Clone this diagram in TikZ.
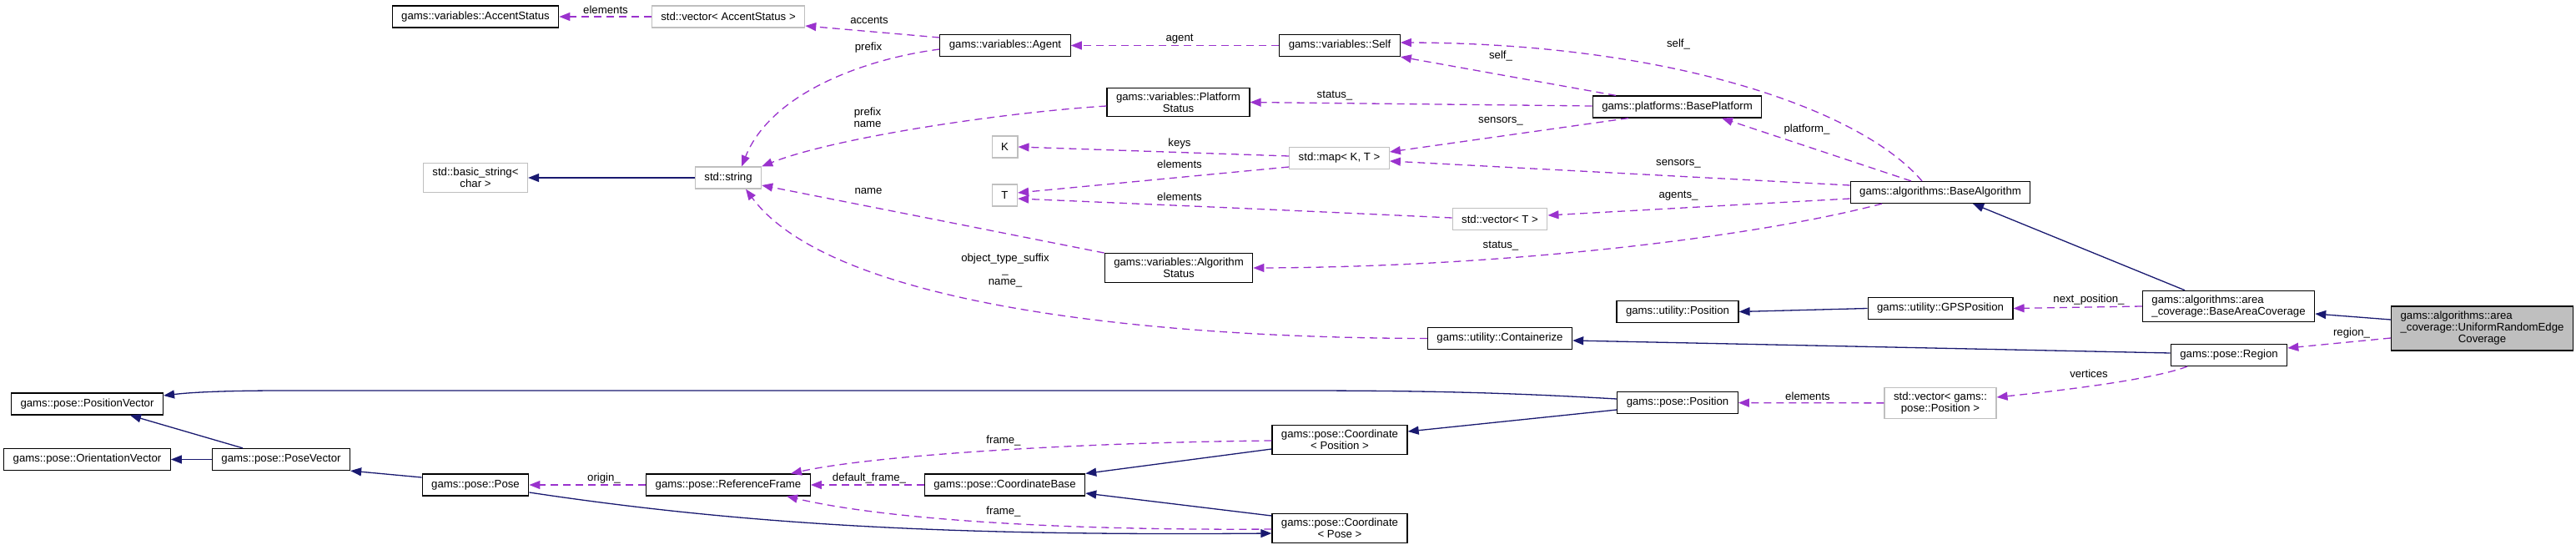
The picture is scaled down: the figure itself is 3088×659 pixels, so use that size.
\documentclass[tikz,border=0pt]{standalone}
\usepackage{fontspec}
\setmainfont{Liberation Sans}
\usetikzlibrary{arrows.meta}
\definecolor{navy}{HTML}{191970}
\definecolor{orchid}{HTML}{9A32CD}
\definecolor{lgray}{HTML}{BFBFBF}
\begin{document}
\begin{tikzpicture}[x=1bp,y=-1bp,every node/.style={font=\fontsize{13.2bp}{14bp}\selectfont}]
\tikzstyle{cls}=[draw=black,line width=1.2bp,inner xsep=11bp,inner ysep=5.5bp,minimum height=26bp]
\tikzstyle{ext}=[cls,draw=lgray]
\tikzstyle{lbl}=[inner sep=1bp]
\tikzstyle{inherit}=[draw=navy,line width=1.3bp,-{Triangle[length=13bp,width=10bp]}]
\tikzstyle{usage}=[draw=orchid,line width=1.3bp,dash pattern=on 9bp off 6bp,-{Triangle[length=13bp,width=10bp]}]
\useasboundingbox (0,0) rectangle (3088,659);

\node[cls](accent) at (570,20) {gams::variables::AccentStatus};
\node[ext](vaccent) at (873,20) {std::vector< AccentStatus >};
\node[cls](agent) at (1205,54.5) {gams::variables::Agent};
\node[cls](self) at (1606,54.5) {gams::variables::Self};
\node[ext,align=center](bstring) at (570,213) {std::basic\_string<\\char >};
\node[ext](string) at (873,213) {std::string};
\node[cls,align=center](pstatus) at (1412.5,122.5) {gams::variables::Platform\\Status};
\node[ext](K) at (1204.5,176) {K};
\node[ext](T) at (1204.5,234) {T};
\node[ext](map) at (1605.5,189.5) {std::map< K, T >};
\node[cls](bplat) at (2010.5,128) {gams::platforms::BasePlatform};
\node[ext](vT) at (1798,262.5) {std::vector< T >};
\node[cls](balg) at (2326,230.5) {gams::algorithms::BaseAlgorithm};
\node[cls,align=center](astatus) at (1413,321) {gams::variables::Algorithm\\Status};
\node[cls](contain) at (1798,405.5) {gams::utility::Containerize};
\node[cls](upos) at (2011,373.5) {gams::utility::Position};
\node[cls](gps) at (2326,369.5) {gams::utility::GPSPosition};
\node[cls,align=left](barea) at (2671.5,367) {gams::algorithms::area\\\_coverage::BaseAreaCoverage};
\node[cls,fill=lgray](ure) at (2975.5,393.5) {\begin{tabular}{@{}l@{}}gams::algorithms::area\\\_coverage::UniformRandomEdge\\\multicolumn{1}{@{}c@{}}{Coverage}\end{tabular}};
\node[cls](region) at (2672,425.5) {gams::pose::Region};
\node[ext,align=center](vpos) at (2326,483) {std::vector< gams::\\pose::Position >};
\node[cls](ppos) at (2011,482.5) {gams::pose::Position};
\node[cls,align=center](cpos) at (1606,527) {gams::pose::Coordinate\\< Position >};
\node[cls,align=center](cpose) at (1606,633) {gams::pose::Coordinate\\< Pose >};
\node[cls](cbase) at (1204.5,581) {gams::pose::CoordinateBase};
\node[cls](rframe) at (873,581) {gams::pose::ReferenceFrame};
\node[cls](pose) at (570,581) {gams::pose::Pose};
\node[cls](pvec) at (337,550.5) {gams::pose::PoseVector};
\node[cls](posvec) at (104.5,484) {gams::pose::PositionVector};
\node[cls](orivec) at (104.5,550.5) {gams::pose::OrientationVector};

% member labels
\node[lbl](l01) at (726,12) {elements};
\node[lbl](l02) at (1042,24) {accents};
\node[lbl](l03) at (1041,57) {prefix};
\node[lbl](l04) at (1414,47) {agent};
\node[lbl,align=center](l05) at (1040,140.5) {prefix\\name};
\node[lbl](l06) at (1414,172) {keys};
\node[lbl](l07) at (1414,197) {elements};
\node[lbl](l08) at (1414,236) {elements};
\node[lbl](l09) at (1041,229) {name};
\node[lbl,align=center](l10) at (1205,324) {object\_type\_suffix\\\_\\name\_};
\node[lbl](l11) at (2012,53) {self\_};
\node[lbl](l12) at (1799,67) {self\_};
\node[lbl](l13) at (1600,115) {status\_};
\node[lbl](l14) at (1799,145) {sensors\_};
\node[lbl](l15) at (2166,155) {platform\_};
\node[lbl](l16) at (2012,196) {sensors\_};
\node[lbl](l17) at (2012,235) {agents\_};
\node[lbl](l18) at (1799,295) {status\_};
\node[lbl](l19) at (2504,359) {next\_position\_};
\node[lbl](l20) at (2819,399) {region\_};
\node[lbl](l21) at (2504,448) {vertices};
\node[lbl](l22) at (2167,475) {elements};
\node[lbl](l23) at (1203,528) {frame\_};
\node[lbl](l24) at (1042,573) {default\_frame\_};
\node[lbl](l25) at (1203,613) {frame\_};
\node[lbl](l26) at (724,573) {origin\_};

% usage relations
\draw[usage] (vaccent) -- (accent);
\draw[usage] ([yshift=9.5bp]agent.west) -- ([yshift=-11bp]vaccent.east);
\draw[usage] ([yshift=-4.5bp]agent.west) .. controls (1040,70) and (925,110) .. ([xshift=16bp]string.north);
\draw[usage] (self) -- (agent);
\draw[usage] ([yshift=-4.5bp]pstatus.west) .. controls (1200,135) and (1000,165) .. (string.north east);
\draw[usage] ([yshift=2.5bp]map.west) -- (K.east);
\draw[usage] ([yshift=-10.5bp]map.west) -- ([yshift=3bp]T.east);
\draw[usage] ([yshift=1.5bp]vT.west) .. controls (1500,250) .. ([yshift=-4bp]T.east);
\draw[usage] (astatus.north west) -- ([yshift=-9bp]string.east);
\draw[usage] (contain.west) .. controls (1400,405) and (1000,370) .. ([xshift=21bp]string.south);
\draw[usage] ([xshift=-73.5bp]bplat.north) -- (self.south east);
\draw[usage] ([yshift=1bp]bplat.west) -- (pstatus.east);
\draw[usage] ([xshift=-58.5bp]bplat.south) -- ([yshift=7.5bp]map.east);
\draw[usage] ([xshift=-22bp]balg.north) .. controls (2230,130) and (2000,52) .. ([yshift=3.5bp]self.east);
\draw[usage] ([xshift=-35bp]balg.north) -- ([xshift=53.5bp]bplat.south);
\draw[usage] ([yshift=8.5bp]balg.west) -- ([yshift=-3.5bp]map.east);
\draw[usage] ([yshift=-7.5bp]balg.west) -- ([yshift=4.5bp]vT.east);
\draw[usage] ([xshift=-70bp]balg.south) .. controls (2100,285) and (1800,320) .. (astatus.east);
\draw[usage] (barea.west) -- (gps.east);
\draw[usage] ([yshift=-11.5bp]ure.west) -- ([yshift=8.5bp]region.east);
\draw[usage] ([xshift=-50bp]region.south) .. controls (2580,455) and (2470,468) .. ([yshift=7bp]vpos.east);
\draw[usage] (vpos) -- (ppos);
\draw[usage] ([yshift=-1bp]cpos.west) .. controls (1300,530) and (1050,545) .. ([xshift=75bp]rframe.north);
\draw[usage] ([yshift=-1bp]cpose.west) .. controls (1250,636) and (1050,620) .. ([xshift=70bp]rframe.south);
\draw[usage] (cbase) -- (rframe);
\draw[usage] (rframe) -- (pose);

% inheritance
\draw[inherit] (string) -- (bstring);
\draw[inherit] ([xshift=-52.5bp]barea.north) -- ([xshift=39bp]balg.south);
\draw[inherit] (gps.west) -- (upos.east);
\draw[inherit] ([yshift=10.5bp]ure.west) -- ([yshift=-9bp]barea.east);
\draw[inherit] ([yshift=2.5bp]region.west) -- ([yshift=-2.5bp]contain.east);
\draw[inherit] ([yshift=4.5bp]ppos.west) .. controls (1800,470) and (1700,468) .. (1550,468) -- (340,468) .. controls (270,468) and (230,470) .. ([yshift=10bp]posvec.east);
\draw[inherit] ([yshift=-8.5bp]ppos.west) -- ([yshift=10bp]cpos.east);
\draw[inherit] ([yshift=-11bp]cpos.west) -- (cbase.north east);
\draw[inherit] ([yshift=15bp]cpose.west) -- ([yshift=-10bp]cbase.east);
\draw[inherit] ([yshift=-9bp]pose.east) .. controls (900,630) and (1150,642) .. ([yshift=-6bp]cpose.west);
\draw[inherit] ([yshift=9bp]pose.west) -- (pvec.south east);
\draw[inherit] ([xshift=-46bp]pvec.north) -- ([xshift=51.5bp]posvec.south);
\draw[inherit] (pvec) -- (orivec);
\end{tikzpicture}
\end{document}
